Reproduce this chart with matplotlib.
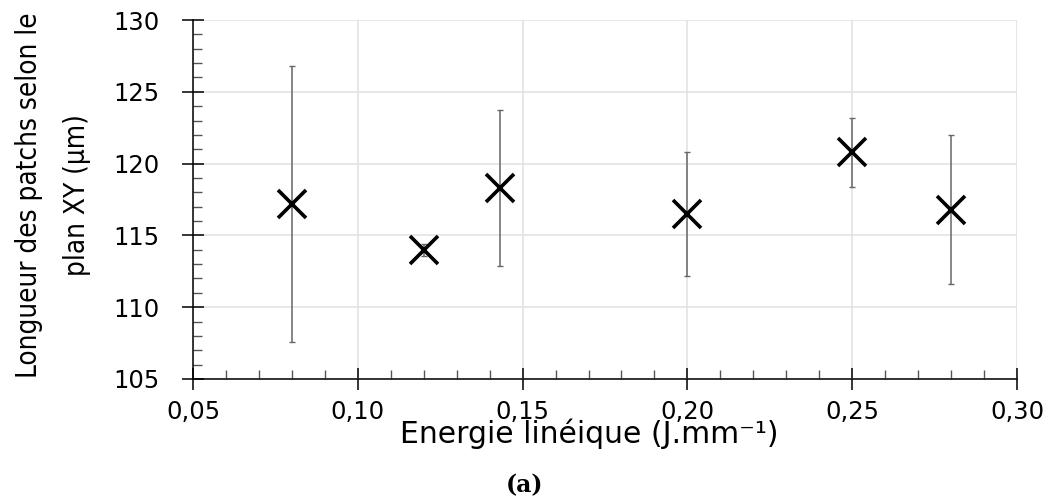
import matplotlib
matplotlib.use('Agg')
import matplotlib.pyplot as plt
from matplotlib.ticker import MultipleLocator, FuncFormatter

energie = [0.08, 0.12, 0.143, 0.20, 0.25, 0.28]
longueur = [117.2, 114.0, 118.3, 116.5, 120.8, 116.8]
erreur = [9.6, 0.4, 5.4, 4.3, 2.4, 5.2]

W, H = 1057, 497
fig = plt.figure(figsize=(W / 100, H / 100), dpi=100)
ax = fig.add_axes([193 / W, 1 - 379 / H, (1017 - 193) / W, (379 - 20) / H])

ax.errorbar(energie, longueur, yerr=erreur, fmt='none', ecolor='#666666',
            elinewidth=1.1, capsize=2.5, capthick=1.0, zorder=3)
ax.plot(energie, longueur, 'x', color='black', markersize=20, mew=2.6, zorder=4)

ax.set_xlim(0.05, 0.30)
ax.set_ylim(105, 130)
ax.xaxis.set_major_locator(MultipleLocator(0.05))
ax.xaxis.set_minor_locator(MultipleLocator(0.01))
ax.yaxis.set_major_locator(MultipleLocator(5))
ax.yaxis.set_minor_locator(MultipleLocator(1))
ax.xaxis.set_major_formatter(FuncFormatter(lambda v, p: f'{v:.2f}'.replace('.', ',')))

ax.grid(which='major', color='#e0e0e0', linewidth=1.1)
ax.set_axisbelow(True)
for s in ['top', 'right']:
    ax.spines[s].set_visible(False)
for s in ['left', 'bottom']:
    ax.spines[s].set_linewidth(1.1)

ax.tick_params(which='major', direction='inout', length=15.8, width=1.1, labelsize=17.5)
ax.tick_params(which='minor', direction='in', length=6.5, width=1.0, color='#555555')
ax.tick_params(axis='x', which='major', pad=7)
ax.tick_params(axis='y', which='major', pad=16)

ax.set_xlabel('Energie linéique (J.mm⁻¹)', fontsize=21.5)
ax.xaxis.set_label_coords((589 - 193) / (1017 - 193), -(434 - 379) / (379 - 20))
ax.xaxis.label.set_va('center')

fig.text(53 / W, 1 - 195 / H, 'Longueur des patchs selon le\nplan XY (µm)',
         family='DejaVu Sans', fontstretch='condensed', fontsize=20,
         rotation=90, ha='center', va='center', multialignment='center',
         linespacing=1.9)

fig.text(524 / W, 1 - 485 / H, '(a)', family='DejaVu Serif', fontweight='bold',
         fontsize=17, ha='center', va='center')

fig.savefig('out.png', dpi=100)
